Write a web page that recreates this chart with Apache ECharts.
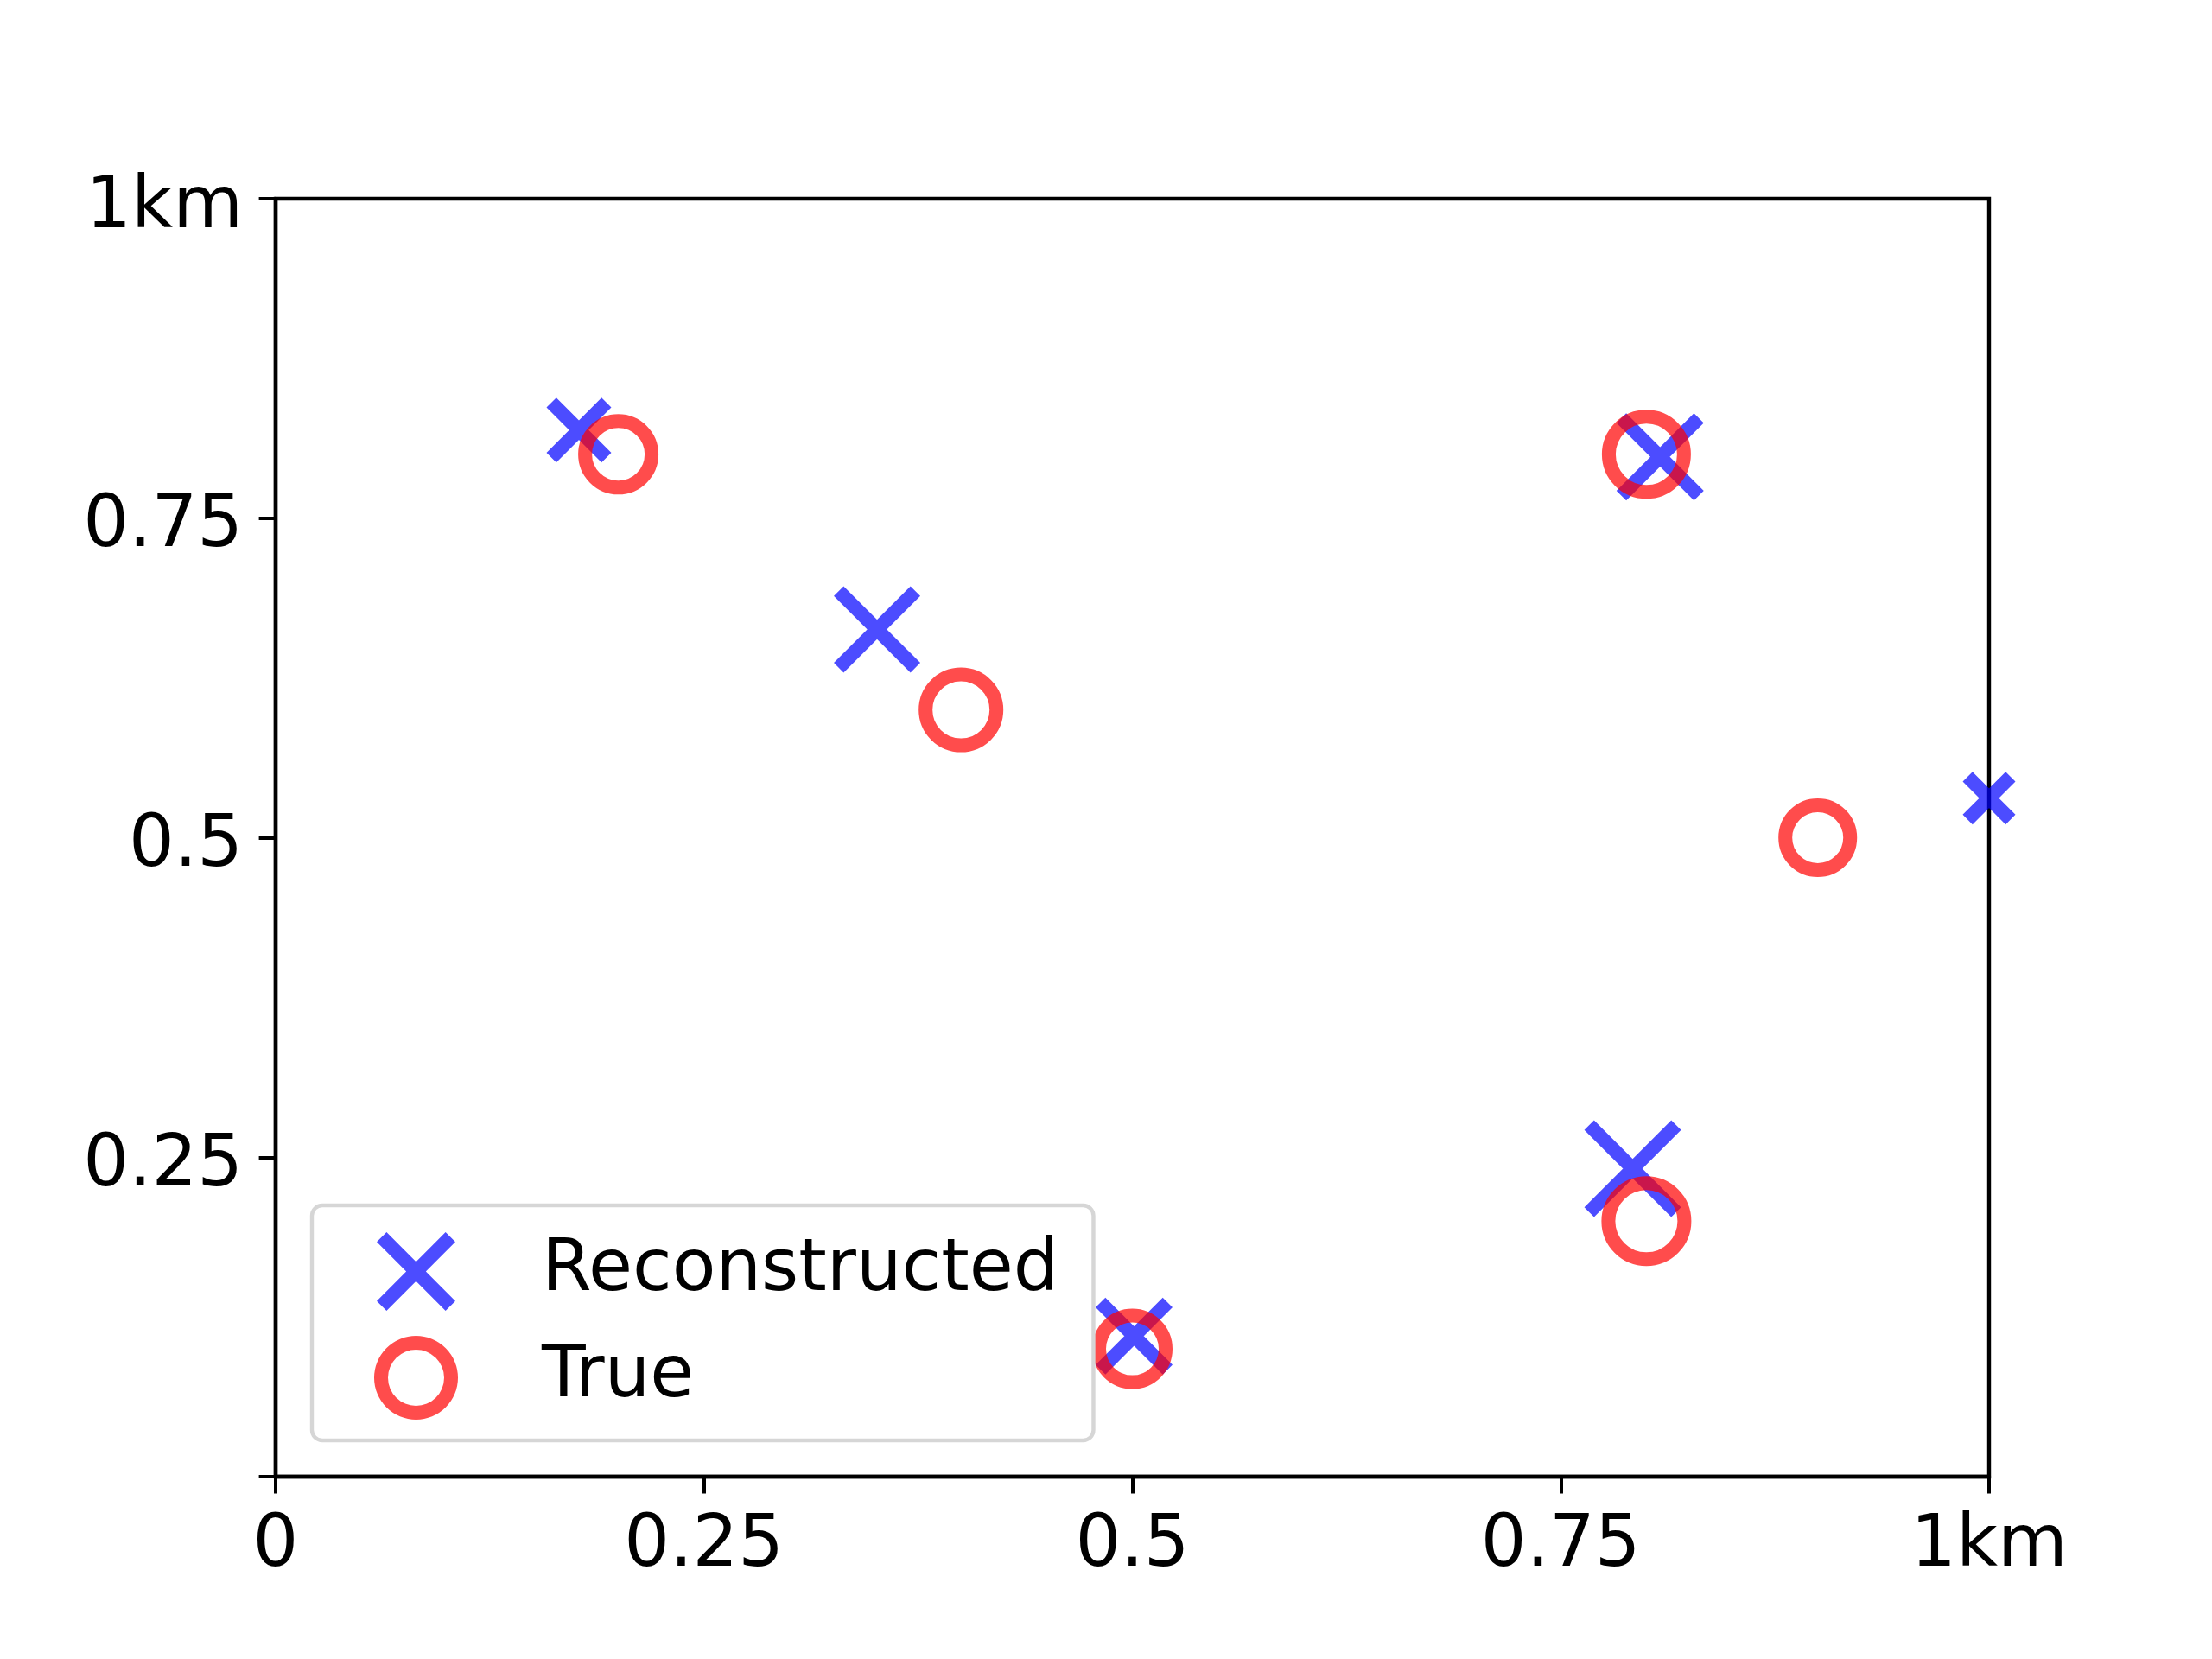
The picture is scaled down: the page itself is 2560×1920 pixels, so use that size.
<!DOCTYPE html>
<html>
<head>
<meta charset="utf-8">
<script src="https://cdn.jsdelivr.net/npm/echarts@6/dist/echarts.min.js"></script>
<style>
html,body{margin:0;padding:0;background:#fff;}
#chart{width:2560px;height:1920px;}
</style>
</head>
<body>
<div id="chart"></div>
<script>
// ---- data ----
const seriesNames = ['Reconstructed', 'True'];
const reconX = [0.177, 0.351, 0.501, 0.808, 0.792, 1.0];
const reconY = [0.819, 0.663, 0.110, 0.798, 0.241, 0.531];
const reconMarker = [75, 100, 89, 101, 112, 61];   // marker extent (px)
const trueX = [0.2, 0.4, 0.5, 0.8, 0.8, 0.9];
const trueY = [0.8, 0.6, 0.1, 0.8, 0.2, 0.5];
const trueMarker = [93, 98, 93, 103, 104, 91];     // marker outer diameter (px)
const xTickLabels = ['0', '0.25', '0.5', '0.75', '1km'];
const yTickLabels = ['', '0.25', '0.5', '0.75', '1km'];

const FONT = 'DejaVu Sans';
const FS = 83;
const LW = 16;
const BLUE = 'rgba(0,0,255,0.7)';
const RED = 'rgba(255,0,0,0.7)';

const reconData = reconX.map((x, i) => [x, reconY[i], reconMarker[i]]);
const trueData = trueX.map((x, i) => [x, trueY[i], trueMarker[i]]);

const xIcon = 'path://M0 0M100 100M3.1 14.8L14.8 3.1L50 38.3L85.2 3.1L96.9 14.8L61.7 50L96.9 85.2L85.2 96.9L50 61.7L14.8 96.9L3.1 85.2L38.3 50Z';
const ringIcon = 'path://M50 0A50 50 0 1 1 50 100A50 50 0 1 1 50 0ZM50 16.5A33.5 33.5 0 1 0 50 83.5A33.5 33.5 0 1 0 50 16.5Z';

const chart = echarts.init(document.getElementById('chart'), null, {renderer: 'canvas'});
chart.setOption({
  animation: false,
  backgroundColor: '#fff',
  grid: {left: 319, top: 230, right: 258, bottom: 211, show: true, borderColor: '#000', borderWidth: 4.4, backgroundColor: 'transparent'},
  xAxis: {
    type: 'value', min: 0, max: 1, interval: 0.25,
    splitLine: {show: false},
    axisLine: {show: true, onZero: false, lineStyle: {color: '#000', width: 4.4}},
    axisTick: {show: true, length: 19.4, lineStyle: {color: '#000', width: 4}},
    axisLabel: {
      color: '#000', fontFamily: FONT, fontSize: FS, margin: 40,
      showMinLabel: true, showMaxLabel: true,
      formatter: v => xTickLabels[Math.round(v / 0.25)]
    }
  },
  yAxis: {
    type: 'value', min: 0, max: 1, interval: 0.25,
    splitLine: {show: false},
    axisLine: {show: true, onZero: false, lineStyle: {color: '#000', width: 4.4}},
    axisTick: {show: true, length: 19.4, lineStyle: {color: '#000', width: 4}},
    axisLabel: {
      color: '#000', fontFamily: FONT, fontSize: FS, margin: 38,
      verticalAlign: 'top', lineHeight: 22,
      showMinLabel: true, showMaxLabel: true,
      formatter: v => yTickLabels[Math.round(v / 0.25)]
    }
  },
  legend: {
    orient: 'vertical',
    left: 361, top: 1395,
    padding: [28, 40, 24, 72],
    itemWidth: 97, itemHeight: 97, itemGap: 26,
    backgroundColor: '#fff',
    borderColor: '#d6d6d6', borderWidth: 4.4, borderRadius: 12,
    textStyle: {color: '#000', fontFamily: FONT, fontSize: FS, padding: [0, 0, 0, 92]},
    data: [
      {name: seriesNames[0], icon: xIcon, itemStyle: {color: BLUE, borderWidth: 0}},
      {name: seriesNames[1], icon: ringIcon, itemStyle: {color: RED, borderWidth: 0}}
    ]
  },
  series: [
    {
      name: seriesNames[0],
      type: 'custom',
      z: 2,
      clip: false,
      itemStyle: {color: BLUE},
      data: reconData,
      renderItem: function (params, api) {
        const p = api.coord([api.value(0), api.value(1)]);
        const a = api.value(2) / 2 - LW / (2 * Math.SQRT2);
        const d = 'M' + (p[0] - a) + ' ' + (p[1] - a) + 'L' + (p[0] + a) + ' ' + (p[1] + a) +
                  'M' + (p[0] - a) + ' ' + (p[1] + a) + 'L' + (p[0] + a) + ' ' + (p[1] - a);
        return {
          type: 'path',
          shape: {pathData: d},
          style: {fill: null, stroke: BLUE, lineWidth: LW, lineCap: 'butt'}
        };
      }
    },
    {
      name: seriesNames[1],
      type: 'scatter',
      z: 3,
      clip: false,
      data: trueData,
      symbol: 'circle',
      symbolSize: v => v[2] - LW,
      itemStyle: {color: 'rgba(0,0,0,0)', borderColor: RED, borderWidth: LW, opacity: 1},
      emphasis: {disabled: true}
    }
  ]
});
</script>
</body>
</html>
